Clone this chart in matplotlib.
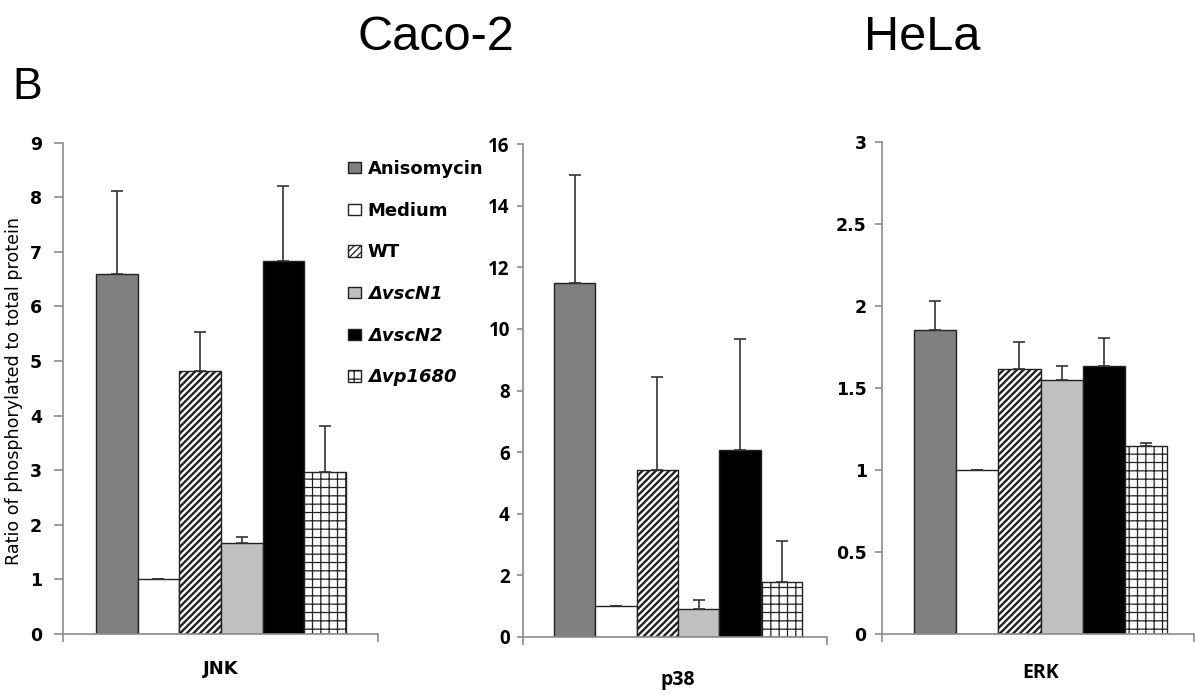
import matplotlib

matplotlib.use("Agg")
import matplotlib.pyplot as plt
import numpy as np
from matplotlib import font_manager

groups = ["Anisomycin", "Medium", "WT", "ΔvscN1", "ΔvscN2", "Δvp1680"]

jnk_mean = [6.6, 1.0, 4.82, 1.67, 6.83, 2.96]
jnk_err = [1.52, 0.0, 0.71, 0.10, 1.38, 0.85]

p38_mean = [11.5, 1.0, 5.41, 0.91, 6.06, 1.8]
p38_err = [3.51, 0.0, 3.03, 0.29, 3.60, 1.30]

erk_mean = [1.855, 1.0, 1.617, 1.547, 1.632, 1.144]
erk_err = [0.175, 0.0, 0.161, 0.085, 0.172, 0.022]

jnk_ticks = list(range(0, 10))
p38_ticks = list(range(0, 17, 2))
erk_ticks = [0, 0.5, 1, 1.5, 2, 2.5, 3]
erk_ticklabels = ["0", "0.5", "1", "1.5", "2", "2.5", "3"]

faces = ["#808080", "white", "white", "#c0c0c0", "black", "white"]
hatches = [None, None, "/////", None, None, "++"]
hatch_lw = [1.0, 1.0, 1.7, 1.0, 1.0, 0.9]

W, H = 1195, 693
installed = {f.name for f in font_manager.fontManager.ttflist}


def pick(*names):
    for n in names:
        if n in installed:
            return n
    return "DejaVu Sans"


NARROW = pick("Liberation Sans Narrow", "Open Sans", "Roboto")
ARIAL = pick("Liberation Sans", "Arimo", "DejaVu Sans")

fig = plt.figure(figsize=(W / 100, H / 100), dpi=100)


def px_axes(x0, x1, ybot, ytop):
    return fig.add_axes([x0 / W, 1 - ybot / H, (x1 - x0) / W, (ybot - ytop) / H])


def draw_panel(ax, means, errs, xlim, ticks, ticklabels, tickfont, ticksize,
               ticklen, tickpad, label, labelfont, labelsize, label_dy):
    x = np.arange(len(means))
    bars = []
    for i in range(len(means)):
        plt.rcParams["hatch.linewidth"] = hatch_lw[i]
        b = ax.bar(x[i], means[i], width=1.0, color=faces[i], edgecolor="#222222",
                   linewidth=1.0, hatch=hatches[i], label=groups[i], zorder=2)
        for p in b:
            if hasattr(p, "set_hatch_linewidth"):
                p.set_hatch_linewidth(hatch_lw[i])
        bars.append(b)
    ax.errorbar(x, means, yerr=[np.zeros(len(errs)), errs], fmt="none",
                ecolor="#333333", elinewidth=1.2, capsize=4.5, capthick=1.2, zorder=3)
    ax.set_xlim(*xlim)
    ax.set_ylim(ticks[0], ticks[-1])
    ax.set_yticks(ticks)
    ax.set_yticklabels(ticklabels, fontfamily=tickfont, fontweight="bold",
                       fontsize=ticksize)
    ax.set_xticks(list(xlim))
    ax.set_xticklabels(["", ""])
    for s in ["top", "right"]:
        ax.spines[s].set_visible(False)
    for s in ["left", "bottom"]:
        ax.spines[s].set_color("#8c8c8c")
        ax.spines[s].set_linewidth(1.2)
    ax.tick_params(axis="y", length=ticklen, width=1.2, color="#8c8c8c", pad=tickpad)
    ax.tick_params(axis="x", length=6, width=1.2, color="#8c8c8c")
    ax.text((len(means) - 1) / 2, label_dy, label, transform=ax.get_xaxis_transform(),
            ha="center", va="center", fontfamily=labelfont, fontweight="bold",
            fontsize=labelsize)
    return bars


ax1 = px_axes(63, 378, 634, 142.7)
bars = draw_panel(ax1, jnk_mean, jnk_err, (-1.29, 6.27), jnk_ticks,
                  [str(t) for t in jnk_ticks], "DejaVu Sans", 12.5, 6.5, 8.5,
                  "JNK", "DejaVu Sans", 13, -35 / 491)

ax2 = px_axes(523, 827, 637, 144)
draw_panel(ax2, p38_mean, p38_err, (-1.25, 6.10), p38_ticks,
           [str(t) for t in p38_ticks], NARROW, 13.5, 4, 5.5,
           "p38", NARROW, 14, -43 / 493)

ax3 = px_axes(882, 1194, 634, 142)
draw_panel(ax3, erk_mean, erk_err, (-1.26, 6.14), erk_ticks, erk_ticklabels,
           "DejaVu Sans", 12.5, 5, 6, "ERK", NARROW, 14, -39 / 492)

leg = fig.legend(handles=[b[0] for b in bars], labels=groups, loc="upper left",
                 bbox_to_anchor=(348 / W, 1 - 160 / H), frameon=False,
                 prop={"family": "DejaVu Sans", "weight": "bold", "size": 13},
                 handlelength=0.7, handleheight=0.6, handletextpad=0.4,
                 labelspacing=1.31, borderpad=0, borderaxespad=0)
for t in leg.get_texts()[3:]:
    t.set_fontstyle("italic")

fig.text(436 / W, 1 - 50 / H, "Caco-2", ha="center", va="baseline",
         fontfamily=ARIAL, fontsize=35)
fig.text(922 / W, 1 - 50 / H, "HeLa", ha="center", va="baseline",
         fontfamily=ARIAL, fontsize=35)
fig.text(12 / W, 1 - 99 / H, "B", ha="left", va="baseline",
         fontfamily=ARIAL, fontsize=32)
fig.text(14 / W, 1 - 391 / H, "Ratio of phosphorylated to total protein",
         rotation=90, ha="center", va="center", fontfamily="DejaVu Sans",
         fontsize=12.6)

fig.savefig("out.png", dpi=100)
